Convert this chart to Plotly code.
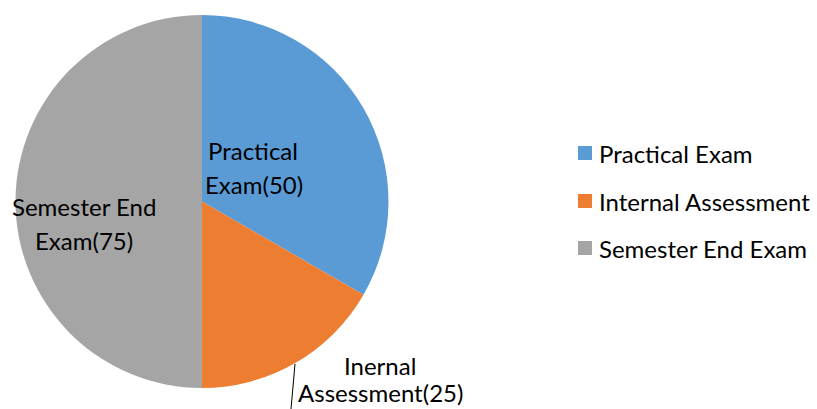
import plotly.graph_objects as go

W, H = 817, 409
categories = ["Practical Exam", "Internal Assessment", "Semester End Exam"]
values = [50, 25, 75]
colors = ["#5B9BD5", "#ED7D31", "#A5A5A5"]
slice_labels = [["Practical", "Exam(50)"], ["Inernal", "Assessment(25)"], ["Semester End", "Exam(75)"]]
FONT = "Lato"
FS = 24

def px(x, y):
    return x / W, 1 - y / H

fig = go.Figure(go.Pie(
    labels=categories, values=values, sort=False, direction="clockwise",
    rotation=0, marker=dict(colors=colors, line=dict(width=0)),
    textinfo="none", hoverinfo="label+value", showlegend=False,
    domain=dict(x=[15 / W, 389 / W], y=[1 - 388 / H, 1 - 15 / H]),
))

anns = []
label_pos = [[(253, 150), (254, 184)], [(380, 365), None], [(84, 207), (84, 240)]]
for lines, poss in zip(slice_labels, label_pos):
    for t, p in zip(lines, poss):
        if p is None:
            # last line sits on the bottom edge
            anns.append(dict(x=380 / W, y=0, xref="paper", yref="paper", text=t, showarrow=False,
                             font=dict(family=FONT, size=FS, color="#000000"),
                             xanchor="center", yanchor="bottom"))
            continue
        xx, yy = px(*p)
        anns.append(dict(x=xx, y=yy, xref="paper", yref="paper", text=t, showarrow=False,
                         font=dict(family=FONT, size=FS, color="#000000"), xanchor="center", yanchor="middle"))

shapes = []
x0, y0 = px(295, 364)
x1, y1 = px(291, 409)
shapes.append(dict(type="line", xref="paper", yref="paper", x0=x0, y0=y0, x1=x1, y1=y1,
                   line=dict(color="#000000", width=1)))

leg_y = [153, 201, 248]
for cat, col, y in zip(categories, colors, leg_y):
    a, b = px(578, y - 7)
    c, d = px(592, y + 7)
    shapes.append(dict(type="rect", xref="paper", yref="paper", x0=a, y0=d, x1=c, y1=b,
                       fillcolor=col, line=dict(width=0)))
    tx, ty = px(597, y)
    anns.append(dict(x=tx, y=ty, xref="paper", yref="paper", text=cat, showarrow=False,
                     font=dict(family=FONT, size=FS, color="#000000"), xanchor="left", yanchor="middle"))

fig.update_layout(width=W, height=H, margin=dict(l=0, r=0, t=0, b=0),
                  paper_bgcolor="white", plot_bgcolor="white",
                  annotations=anns, shapes=shapes)
fig.write_html("out.html", config={"displayModeBar": False},
               post_script="document.body.style.margin='0';")
